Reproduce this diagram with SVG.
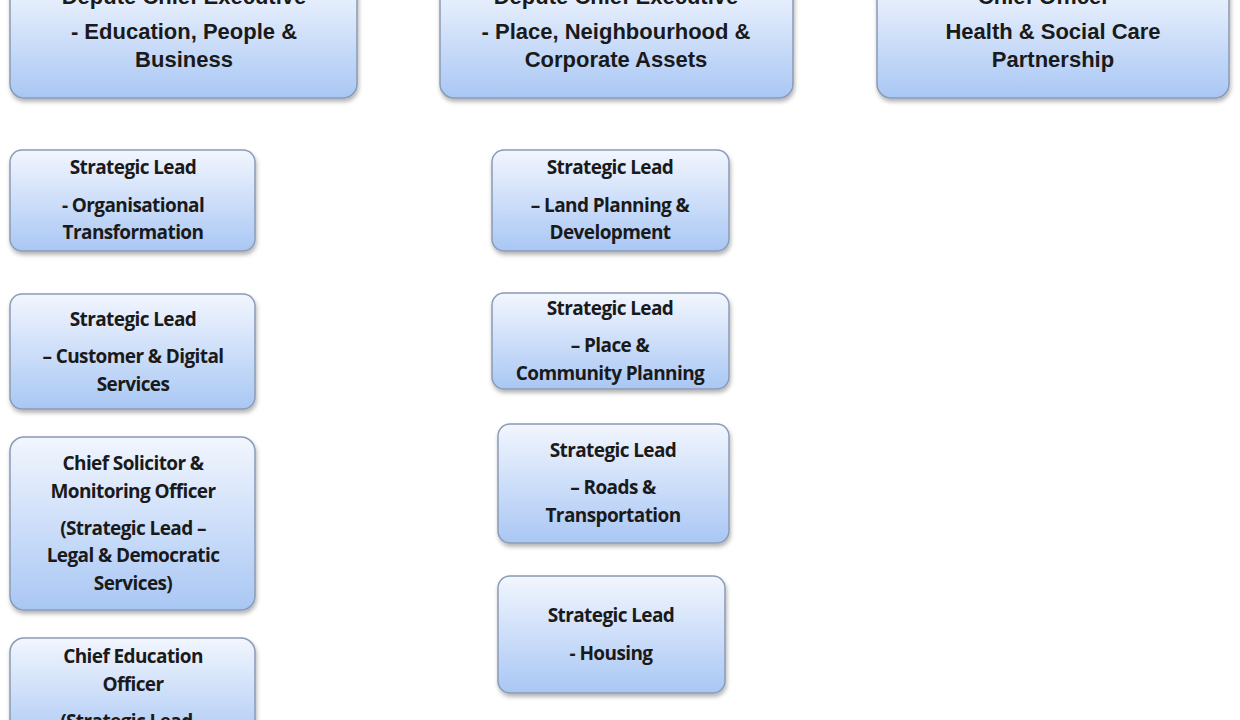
<svg xmlns="http://www.w3.org/2000/svg" width="1240" height="720" viewBox="0 0 1240 720">
<defs>
<linearGradient id="g" x1="0" y1="0" x2="0" y2="1"><stop offset="0" stop-color="#f2f6fe"/><stop offset="1" stop-color="#a9c7f4"/></linearGradient>
<filter id="s" x="-10%" y="-10%" width="120%" height="130%"><feDropShadow dx="1" dy="3" stdDeviation="2" flood-color="#000" flood-opacity="0.3"/></filter>
</defs>
<style>
.b{fill:url(#g);stroke:#8a9bb5;stroke-width:1.5;filter:url(#s)}
.t{font-family:"Liberation Sans",Arial,sans-serif;font-weight:bold;font-size:22px;fill:#1a1a1a;text-anchor:middle}
.u{font-family:"Open Sans","Liberation Sans",sans-serif;font-weight:bold;font-size:19px;fill:#1a1a1a;text-anchor:middle;letter-spacing:-0.6px}
</style>
<rect width="1240" height="720" fill="#fff"/>
<g id="n1"><rect class="b" x="10" y="-20" width="347" height="118" rx="14"/><text class="t" x="184" y="4">Depute Chief Executive</text><text class="t" x="184" y="39">- Education, People &amp;</text><text class="t" x="184" y="67">Business</text></g>
<g id="n2"><rect class="b" x="440" y="-20" width="353" height="118" rx="14"/><text class="t" x="616" y="4">Depute Chief Executive</text><text class="t" x="616" y="39">- Place, Neighbourhood &amp;</text><text class="t" x="616" y="67">Corporate Assets</text></g>
<g id="n3"><rect class="b" x="877" y="-20" width="352" height="118" rx="14"/><text class="t" x="1053" y="4">Chief Officer –</text><text class="t" x="1053" y="39">Health &amp; Social Care</text><text class="t" x="1053" y="67">Partnership</text></g>
<g id="l1"><rect class="b" x="10" y="150" width="245" height="101" rx="12"/><text class="u" x="133" y="174">Strategic Lead</text><text class="u" x="133" y="212">- Organisational</text><text class="u" x="133" y="239">Transformation</text></g>
<g id="l2"><rect class="b" x="10" y="294" width="245" height="115" rx="12"/><text class="u" x="133" y="326">Strategic Lead</text><text class="u" x="133" y="363">– Customer &amp; Digital</text><text class="u" x="133" y="391">Services</text></g>
<g id="l3"><rect class="b" x="10" y="437" width="245" height="173" rx="14"/><text class="u" x="133" y="470">Chief Solicitor &amp;</text><text class="u" x="133" y="498">Monitoring Officer</text><text class="u" x="133" y="535">(Strategic Lead –</text><text class="u" x="133" y="562">Legal &amp; Democratic</text><text class="u" x="133" y="590">Services)</text></g>
<g id="l4"><rect class="b" x="10" y="638" width="245" height="110" rx="14"/><text class="u" x="133" y="663">Chief Education</text><text class="u" x="133" y="691">Officer</text><text class="u" x="133" y="728">(Strategic Lead –</text></g>
<g id="m1"><rect class="b" x="492" y="150" width="237" height="101" rx="12"/><text class="u" x="610" y="174">Strategic Lead</text><text class="u" x="610" y="212">– Land Planning &amp;</text><text class="u" x="610" y="239">Development</text></g>
<g id="m2"><rect class="b" x="492" y="293" width="237" height="96" rx="12"/><text class="u" x="610" y="315">Strategic Lead</text><text class="u" x="610" y="352">– Place &amp;</text><text class="u" x="610" y="380">Community Planning</text></g>
<g id="m3"><rect class="b" x="498" y="424" width="231" height="119" rx="12"/><text class="u" x="613" y="457">Strategic Lead</text><text class="u" x="613" y="494">– Roads &amp;</text><text class="u" x="613" y="522">Transportation</text></g>
<g id="m4"><rect class="b" x="498" y="576" width="227" height="117" rx="12"/><text class="u" x="611" y="622">Strategic Lead</text><text class="u" x="611" y="660">- Housing</text></g>
<g id="connectors"></g>
</svg>
